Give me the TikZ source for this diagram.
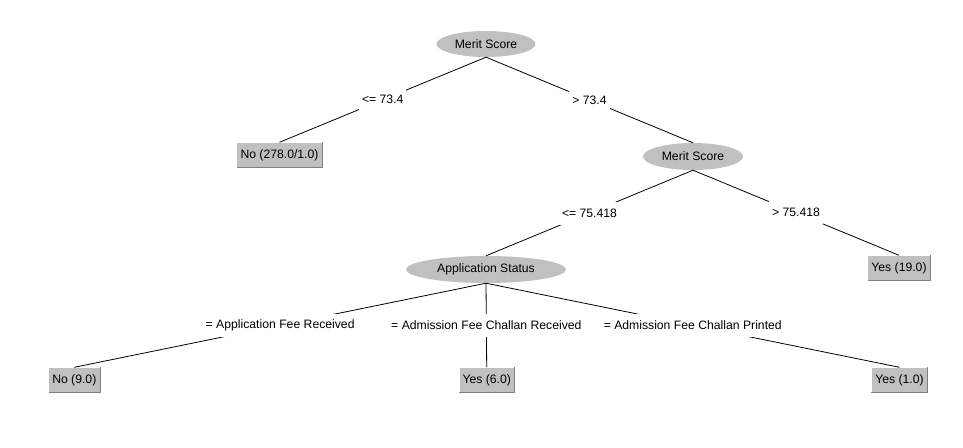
\documentclass[tikz,border=0pt]{standalone}
\usepackage{fontspec}
\setmainfont{Liberation Sans}
\usetikzlibrary{shapes.geometric}
\definecolor{nodegray}{HTML}{C0C0C0}
\definecolor{shadegray}{HTML}{808080}
\tikzset{
  every node/.style={font=\fontsize{12.2}{14}\selectfont},
  inner/.style={shape=ellipse, fill=nodegray, inner sep=0pt},
  leaf/.style={shape=rectangle, fill=nodegray, inner sep=0pt, minimum height=25pt},
  edge/.style={line width=0.8pt, black},
  lbl/.style={fill=white, inner xsep=3pt, inner ysep=0pt, minimum height=23pt}
}
\newcommand{\bevel}[1]{%
  \draw[white, line width=1pt] (#1.south west) -- (#1.north west) -- (#1.north east);
  \draw[shadegray, line width=1pt] (#1.north east) -- (#1.south east) -- (#1.south west);
}
\begin{document}
\begin{tikzpicture}[x=1pt, y=-1pt]
\fill[white] (0,0) rectangle (963,447);
\useasboundingbox (0,0) rectangle (963,447);
% inner nodes
\node[inner, minimum width=99pt, minimum height=26pt] (r) at (486,44) {Merit Score};
\node[inner, minimum width=100pt, minimum height=27pt] (m2) at (693,156.5) {Merit Score};
\node[inner, minimum width=160pt, minimum height=27pt] (as) at (486,269.5) {Application Status};
% leaves
\node[leaf, minimum width=85pt] (l1) at (279.5,155) {No (278.0/1.0)};
\node[leaf, minimum width=62pt] (y19) at (899,268) {Yes (19.0)};
\node[leaf, minimum width=51pt] (n9) at (74.3,380) {No (9.0)};
\node[leaf, minimum width=55pt] (y6) at (486.7,380) {Yes (6.0)};
\node[leaf, minimum width=56pt] (y1) at (899.5,380) {Yes (1.0)};
\foreach \n in {l1,y19,n9,y6,y1} {\bevel{\n}}
% edges with labels
\draw[edge] (r.south) -- node[lbl] {<= 73.4} (l1.north);
\draw[edge] (r.south) -- node[lbl] {> 73.4} (m2.north);
\draw[edge] (m2.south) -- node[lbl] {<= 75.418} (as.north);
\draw[edge] (m2.south) -- node[lbl] {> 75.418} (y19.north);
\draw[edge] (as.south) -- node[lbl] {= Application Fee Received} (n9.north);
\draw[edge] (as.south) -- node[lbl] {= Admission Fee Challan Received} (y6.north);
\draw[edge] (as.south) -- node[lbl] {= Admission Fee Challan Printed} (y1.north);
\end{tikzpicture}
\end{document}
